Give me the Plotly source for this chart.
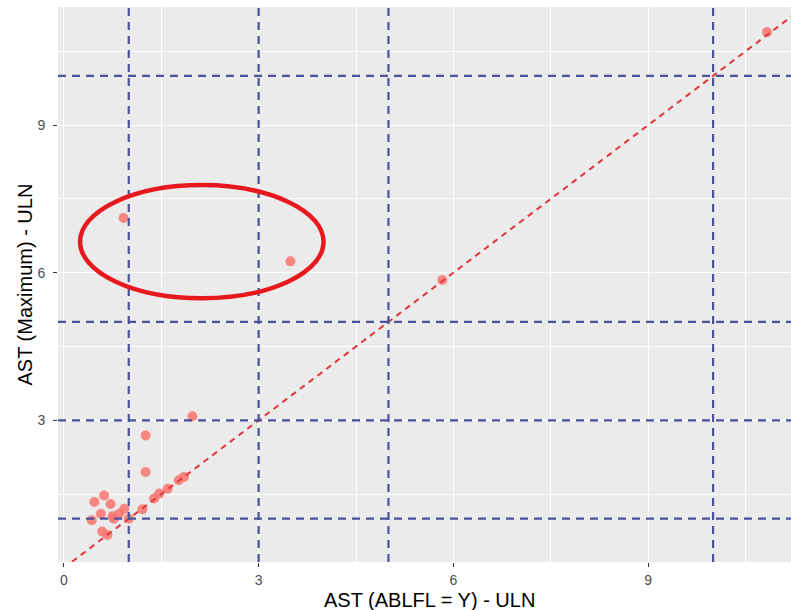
import plotly.graph_objects as go

# AST relative to ULN: baseline (ABLFL = Y) vs. maximum post-baseline value
ast_baseline = [0.43, 0.47, 0.57, 0.59, 0.62, 0.67, 0.72, 0.77, 0.75, 0.85,
                0.93, 1.00, 1.21, 1.26, 1.26, 1.39, 1.47, 1.60, 1.77, 1.85,
                1.98, 0.92, 3.49, 5.83, 10.83]
ast_maximum = [0.97, 1.34, 1.10, 0.74, 1.47, 0.67, 1.30, 1.00, 1.05, 1.10,
               1.20, 1.00, 1.19, 1.95, 2.69, 1.41, 1.51, 1.61, 1.78, 1.85,
               3.08, 7.11, 6.23, 5.85, 10.89]

# Reference cut-offs (multiples of ULN)
cutoffs = [1, 3, 5, 10]
x_ticks = [0, 3, 6, 9]
y_ticks = [3, 6, 9]

# Highlight region around the outlying subjects (data units)
highlight_x = [0.25, 4.0]
highlight_y = [5.48, 7.78]

x_range = [-0.09, 11.2]
y_range = [0.12, 11.4]

fig = go.Figure()

fig.add_trace(go.Scatter(
    x=ast_baseline, y=ast_maximum, mode="markers",
    marker=dict(color="#F8766D", size=10, opacity=0.85, line=dict(width=0)),
    showlegend=False, hoverinfo="x+y",
))

# Identity line y = x
fig.add_trace(go.Scatter(
    x=[x_range[0] - 1, x_range[1] + 1], y=[x_range[0] - 1, x_range[1] + 1],
    mode="lines", line=dict(color="#E0363A", width=2, dash="6px,5px"),
    showlegend=False, hoverinfo="skip",
))

line_style = dict(color="#4A529C", width=2.2, dash="8px,6px")
for c in cutoffs:
    fig.add_vline(x=c, line=line_style, layer="above")
    fig.add_hline(y=c, line=line_style, layer="above")

fig.add_shape(type="circle", xref="x", yref="y",
              x0=highlight_x[0], x1=highlight_x[1],
              y0=highlight_y[0], y1=highlight_y[1],
              line=dict(color="#E8191E", width=4.5), layer="above")

axis_common = dict(
    showgrid=True, gridcolor="white", gridwidth=1.4,
    zeroline=False, showline=False,
    ticks="outside", ticklen=4, tickwidth=1.2, tickcolor="#333333",
    tickfont=dict(family="Liberation Sans, Arial", size=14, color="#4D4D4D"),
    minor=dict(dtick=1.5, showgrid=True, gridcolor="white", gridwidth=0.6, ticks=""),
)

fig.update_xaxes(range=x_range, tickmode="array", tickvals=x_ticks,
                 ticktext=[str(v) for v in x_ticks], ticklabelstandoff=1,
                 **axis_common)
fig.update_xaxes(minor=dict(tick0=0, dtick=1.5))
fig.update_yaxes(range=y_range, tickmode="array", tickvals=y_ticks,
                 ticktext=[str(v) for v in y_ticks], ticklabelstandoff=5,
                 **axis_common)
fig.update_yaxes(minor=dict(tick0=0, dtick=1.5))

fig.update_layout(
    width=791, height=610,
    margin=dict(l=58, r=0, t=7, b=48),
    paper_bgcolor="white", plot_bgcolor="#EBEBEB",
    font=dict(family="Liberation Sans, Arial", color="black"),
    annotations=[
        dict(text="AST (ABLFL = Y) - ULN", xref="paper", yref="paper",
             x=0.5075, y=0, xanchor="center", yanchor="middle",
             yshift=-38, showarrow=False, font=dict(size=20, color="black")),
        dict(text="AST (Maximum) - ULN", xref="paper", yref="paper",
             x=0, y=0.5, xanchor="center", yanchor="middle", textangle=-90,
             xshift=-34, showarrow=False, font=dict(size=20, color="black")),
    ],
)

fig.write_html("out.html")
